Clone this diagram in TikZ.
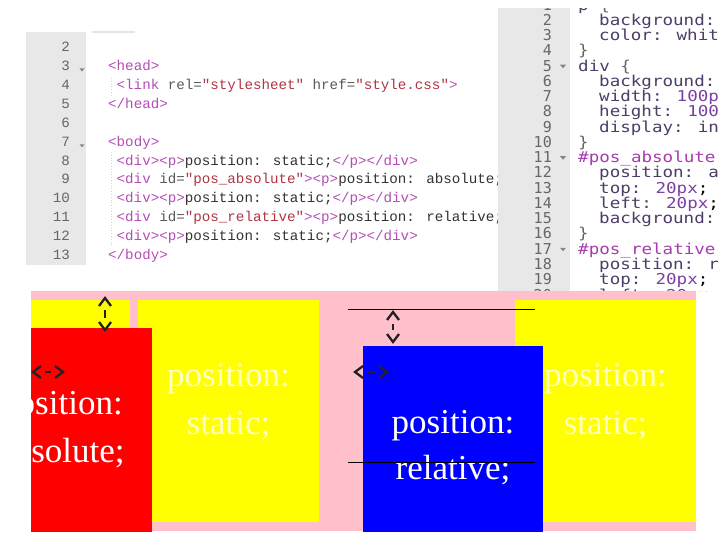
\documentclass[tikz,border=0pt]{standalone}
\usepackage{fontspec}
\setmainfont{Liberation Serif}
\newfontfamily\htmlfont{Liberation Mono}
\newfontfamily\cssfont{DejaVu Sans Mono}
\definecolor{gutterc}{HTML}{E8E8E8}
\definecolor{numc}{HTML}{666666}
\definecolor{tagc}{HTML}{B54DB5}
\definecolor{attrc}{HTML}{5A5A5A}
\definecolor{valc}{HTML}{B03545}
\definecolor{txtc}{HTML}{333333}
\definecolor{propc}{HTML}{4E3D66}
\definecolor{numvc}{HTML}{7B3FA0}
\definecolor{idc}{HTML}{A83AAE}
\definecolor{brc}{HTML}{666666}
\definecolor{pinkc}{HTML}{FFC0CB}
\definecolor{yelc}{HTML}{FFFF00}
\definecolor{redc}{HTML}{FF0000}
\definecolor{bluec}{HTML}{0000FF}
\definecolor{paleyel}{HTML}{FFFFC0}
\definecolor{markc}{HTML}{222222}
\newcommand\hTag[1]{\textcolor{tagc}{#1}}
\newcommand\hAttr[1]{\textcolor{attrc}{#1}}
\newcommand\hVal[1]{\textcolor{valc}{#1}}
\newcommand\hTxt[1]{\textcolor{txtc}{#1}}
\newcommand\cProp[1]{\textcolor{propc}{#1}}
\newcommand\cNum[1]{\textcolor{numvc}{#1}}
\newcommand\cId[1]{\textcolor{idc}{#1}}
\newcommand\cBr[1]{\textcolor{brc}{#1}}
\newcommand\cWide[1]{\scalebox{1.17}[1]{#1}}
\newcommand\markV[3]{%
  \draw[dimmark] (#1-6,#2+8) -- (#1,#2) -- (#1+6,#2+8);
  \draw[dimmark] (#1,#2+12) -- (#1,#3-12);
  \draw[dimmark] (#1-6,#3-8) -- (#1,#3) -- (#1+6,#3-8);}
\newcommand\markH[3]{%
  \draw[dimmark] (#2+8,#1-6) -- (#2,#1) -- (#2+8,#1+6);
  \draw[dimmark] (#2+12,#1) -- (#3-12,#1);
  \draw[dimmark] (#3-8,#1-6) -- (#3,#1) -- (#3-8,#1+6);}
\tikzset{
  hline/.style={anchor=base west, inner sep=0pt, font=\htmlfont\fontsize{14.2}{16}\selectfont},
  hnum/.style={anchor=base east, inner sep=0pt, text=numc, font=\htmlfont\fontsize{14.2}{16}\selectfont},
  cline/.style={anchor=base west, inner sep=0pt, font=\cssfont\fontsize{15}{15}\selectfont},
  cnum/.style={anchor=base east, inner sep=0pt, text=numc, font=\cssfont\fontsize{15}{15}\selectfont},
  fold/.style={fill=numc!80},
  boxtext/.style={anchor=base, inner sep=0pt, font=\fontsize{35}{35}\selectfont},
  dimmark/.style={draw=markc, line width=2.3pt},
  guide/.style={draw=black, line width=1.3pt},
}
\begin{document}
\begin{tikzpicture}[x=1pt, y=-1pt]
\useasboundingbox (0,0) rectangle (720,540);
\fill[white] (0,0) rectangle (720,540);
% ---------- left panel (HTML) ----------
\fill[gutterc] (26,32) rectangle (86,265);
\draw[gray!20, line width=1.5pt] (92,32) -- (135,32);
\foreach \n in {2,...,13}
  \node[hnum] (hn\n) at (70,{51.4+(\n-2)*18.94}) {\n};
\fill[fold] (79.5,68.5) -- (84.5,68.5) -- (82,71.5) -- cycle;
\fill[fold] (79.5,144.3) -- (84.5,144.3) -- (82,147.3) -- cycle;
\draw[gray!35, dotted, line width=0.8pt] (111,78) -- (111,96);
\draw[gray!35, dotted, line width=0.8pt] (111,152) -- (111,246);
\node[hline] (h3) at (108,70.34) {\hTag{<head>}};
\node[hline] (h4) at (116.5,89.28) {\hTag{<link} \hAttr{rel=}\hVal{"stylesheet"} \hAttr{href=}\hVal{"style.css"}\hTag{>}};
\node[hline] (h5) at (108,108.22) {\hTag{</head>}};
\node[hline] (h7) at (108,146.1) {\hTag{<body>}};
\node[hline] (h8) at (116.5,165.04) {\hTag{<div><p>}\hTxt{position: static;}\hTag{</p></div>}};
\node[hline] (h9) at (116.5,183.98) {\hTag{<div} \hAttr{id=}\hVal{"pos\_absolute"}\hTag{><p>}\hTxt{position: absolute;}};
\node[hline] (h10) at (116.5,202.92) {\hTag{<div><p>}\hTxt{position: static;}\hTag{</p></div>}};
\node[hline] (h11) at (116.5,221.86) {\hTag{<div} \hAttr{id=}\hVal{"pos\_relative"}\hTag{><p>}\hTxt{position: relative;}};
\node[hline] (h12) at (116.5,240.8) {\hTag{<div><p>}\hTxt{position: static;}\hTag{</p></div>}};
\node[hline] (h13) at (108,259.74) {\hTag{</body>}};
% ---------- right panel (CSS) ----------
\begin{scope}
\clip (498,9) rectangle (720,291);
\fill[white] (498,0) rectangle (720,300);
\fill[gutterc] (498,0) rectangle (570,300);
\foreach \n in {1,...,20}
  \node[cnum] (cn\n) at (552,{25.5+(\n-2)*15.25}) {\n};
\foreach \n in {5,11,17}
  \fill[fold] (560,{19+(\n-2)*15.25}) -- (566,{19+(\n-2)*15.25}) -- (563,{22.5+(\n-2)*15.25}) -- cycle;
\node[cline] (c1) at (578,10.25) {\cWide{\cProp{p} \cBr{\{}}};
\node[cline] (c2) at (599,25.5) {\cWide{\cProp{background:}}};
\node[cline] (c3) at (599,40.75) {\cWide{\cProp{color: whit}}};
\node[cline] (c4) at (578,56) {\cWide{\cBr{\}}}};
\node[cline] (c5) at (578,71.25) {\cWide{\cProp{div} \cBr{\{}}};
\node[cline] (c6) at (599,86.5) {\cWide{\cProp{background:}}};
\node[cline] (c7) at (599,101.75) {\cWide{\cProp{width:} \cNum{100p}}};
\node[cline] (c8) at (599,117) {\cWide{\cProp{height:} \cNum{100}}};
\node[cline] (c9) at (599,132.25) {\cWide{\cProp{display: in}}};
\node[cline] (c10) at (578,147.5) {\cWide{\cBr{\}}}};
\node[cline] (c11) at (578,162.75) {\cWide{\cId{\#pos\_absolute}}};
\node[cline] (c12) at (599,178) {\cWide{\cProp{position: a}}};
\node[cline] (c13) at (599,193.25) {\cWide{\cProp{top:} \cNum{20px};}};
\node[cline] (c14) at (599,208.5) {\cWide{\cProp{left:} \cNum{20px};}};
\node[cline] (c15) at (599,223.75) {\cWide{\cProp{background:}}};
\node[cline] (c16) at (578,239) {\cWide{\cBr{\}}}};
\node[cline] (c17) at (578,254.25) {\cWide{\cId{\#pos\_relative}}};
\node[cline] (c18) at (599,269.5) {\cWide{\cProp{position: r}}};
\node[cline] (c19) at (599,284.75) {\cWide{\cProp{top:} \cNum{20px};}};
\node[cline] (c20) at (599,300) {\cWide{\cProp{left:} \cNum{20px};}};
\end{scope}
% ---------- rendered page ----------
\begin{scope}
\clip (31,291) rectangle (696,531);
\fill[pinkc] (31,291) rectangle (696,531);
\fill[yelc] (-51,300) rectangle (130,521.5);
\fill[yelc] (138,300) rectangle (319,521.5);
\fill[yelc] (515,300) rectangle (696,521.5);
\node[boxtext, text=paleyel] (ys1) at (228.5,386) {position:};
\node[boxtext, text=paleyel] (ys2) at (228.5,434) {static;};
\node[boxtext, text=paleyel] (ys3) at (605.5,386) {position:};
\node[boxtext, text=paleyel] (ys4) at (605.5,434) {static;};
\fill[redc] (-29,328) rectangle (152,540);
\node[boxtext, text=white] (ra1) at (61.5,414) {position:};
\node[boxtext, text=white] (ra2) at (61.5,462) {absolute;};
\fill[bluec] (363,346) rectangle (543,540);
\node[boxtext, text=white] (bl1) at (453,433) {position:};
\node[boxtext, text=white] (bl2) at (453,479) {relative;};
\coordinate (g1a) at (348,309.3);
\coordinate (g1b) at (535,309.3);
\coordinate (g2a) at (348,462.7);
\coordinate (g2b) at (535,462.7);
\draw[guide] (g1a) -- (g1b);
\draw[guide] (g2a) -- (g2b);
\markV{105}{298}{330}
\markV{393}{312}{342}
\markH{372}{33}{63}
\markH{372}{355}{387}
\end{scope}
\end{tikzpicture}
\end{document}
